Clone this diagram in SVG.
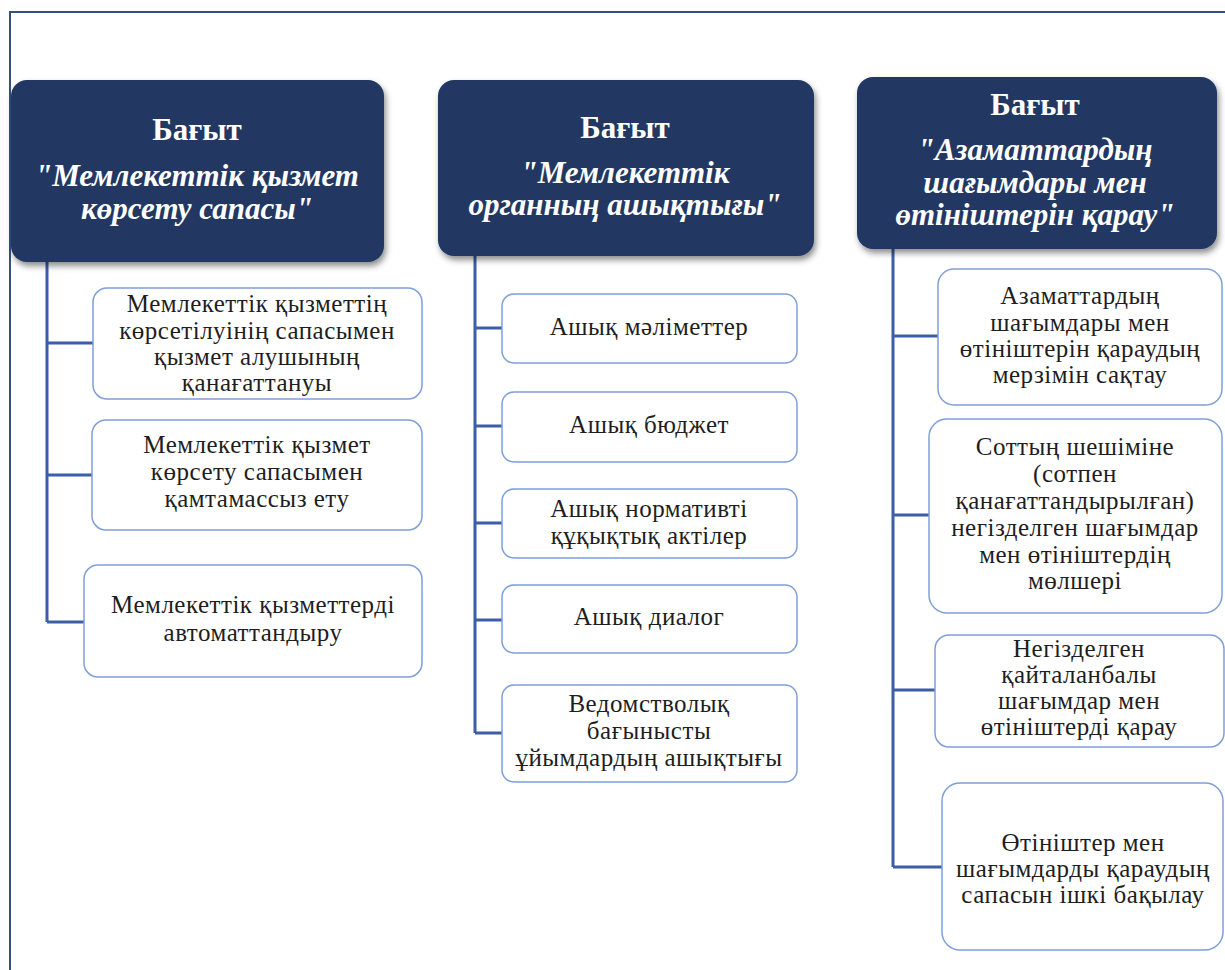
<svg xmlns="http://www.w3.org/2000/svg" width="1225" height="970" viewBox="0 0 1225 970">
<defs>
<style>
.hdr{fill:#203864;}
.ht{fill:#ffffff;font-family:"Liberation Serif","DejaVu Serif",serif;text-anchor:middle;}
.hb{font-weight:bold;font-size:31px;}
.hi{font-weight:bold;font-style:italic;font-size:31px;}
.box{fill:#ffffff;stroke:#7f9fd8;stroke-width:1.5;}
.bt{fill:#1e1e1e;font-family:"Liberation Serif","DejaVu Serif",serif;font-size:25px;letter-spacing:0.5px;text-anchor:middle;}
.con{fill:none;stroke:#3b5ea6;stroke-width:3;}
.frame{fill:none;stroke:#34507f;stroke-width:2;}
</style>
<filter id="sh" x="-10%" y="-10%" width="125%" height="130%">
<feDropShadow dx="2" dy="4" stdDeviation="3" flood-color="#000" flood-opacity="0.45"/>
</filter>
</defs>
<rect width="1225" height="970" fill="#ffffff"/>
<path class="frame" d="M10,970 V12 H1225"/>

<g id="connectors">
<path class="con" d="M47,262 V622 M47,343 H93 M47,475 H92 M47,622 H84"/>
<path class="con" d="M475,256 V733 M475,328 H502 M475,426 H502 M475,523 H502 M475,620 H502 M475,733 H502"/>
<path class="con" d="M893,249 V867 M893,336 H938 M893,515 H929 M893,690 H935 M893,867 H942"/>
</g>

<g id="h1">
<rect class="hdr" x="11" y="80" width="373" height="182" rx="16" filter="url(#sh)"/>
<text class="ht hb" x="197" y="140">Бағыт</text>
<text class="ht hi" x="197" y="186">"Мемлекеттік қызмет</text>
<text class="ht hi" x="197" y="219">көрсету сапасы"</text>
</g>
<g id="h2">
<rect class="hdr" x="438" y="80" width="376" height="176" rx="16" filter="url(#sh)"/>
<text class="ht hb" x="625" y="138">Бағыт</text>
<text class="ht hi" x="625" y="183">"Мемлекеттік</text>
<text class="ht hi" x="625" y="215">органның ашықтығы"</text>
</g>
<g id="h3">
<rect class="hdr" x="857" y="77" width="360" height="172" rx="16" filter="url(#sh)"/>
<text class="ht hb" x="1035" y="115">Бағыт</text>
<text class="ht hi" x="1035" y="160">"Азаматтардың</text>
<text class="ht hi" x="1035" y="193">шағымдары мен</text>
<text class="ht hi" x="1035" y="225">өтініштерін қарау"</text>
</g>

<g id="c1a">
<rect class="box" x="93" y="288" width="329" height="111" rx="14"/>
<text class="bt" x="257" y="312">Мемлекеттік қызметтің</text>
<text class="bt" x="257" y="339">көрсетілуінің сапасымен</text>
<text class="bt" x="257" y="365">қызмет алушының</text>
<text class="bt" x="257" y="391">қанағаттануы</text>
</g>
<g id="c1b">
<rect class="box" x="92" y="420" width="330" height="110" rx="14"/>
<text class="bt" x="257" y="453">Мемлекеттік қызмет</text>
<text class="bt" x="257" y="480">көрсету сапасымен</text>
<text class="bt" x="257" y="507">қамтамассыз ету</text>
</g>
<g id="c1c">
<rect class="box" x="84" y="565" width="338" height="112" rx="14"/>
<text class="bt" x="253" y="613">Мемлекеттік қызметтерді</text>
<text class="bt" x="253" y="641">автоматтандыру</text>
</g>

<g id="c2a">
<rect class="box" x="502" y="294" width="295" height="69" rx="12"/>
<text class="bt" x="649" y="335">Ашық мәліметтер</text>
</g>
<g id="c2b">
<rect class="box" x="502" y="392" width="295" height="70" rx="12"/>
<text class="bt" x="649" y="433">Ашық бюджет</text>
</g>
<g id="c2c">
<rect class="box" x="502" y="489" width="295" height="69" rx="12"/>
<text class="bt" x="649" y="517">Ашық нормативті</text>
<text class="bt" x="649" y="544">құқықтық актілер</text>
</g>
<g id="c2d">
<rect class="box" x="502" y="585" width="295" height="68" rx="12"/>
<text class="bt" x="649" y="625">Ашық диалог</text>
</g>
<g id="c2e">
<rect class="box" x="502" y="685" width="295" height="97" rx="12"/>
<text class="bt" x="649" y="712">Ведомстволық</text>
<text class="bt" x="649" y="739">бағынысты</text>
<text class="bt" x="649" y="766">ұйымдардың ашықтығы</text>
</g>

<g id="c3a">
<rect class="box" x="938" y="269" width="284" height="136" rx="16"/>
<text class="bt" x="1080" y="304">Азаматтардың</text>
<text class="bt" x="1080" y="331">шағымдары мен</text>
<text class="bt" x="1080" y="357">өтініштерін қараудың</text>
<text class="bt" x="1080" y="383">мерзімін сақтау</text>
</g>
<g id="c3b">
<rect class="box" x="929" y="419" width="293" height="194" rx="18"/>
<text class="bt" x="1075" y="455">Соттың шешіміне</text>
<text class="bt" x="1075" y="482">(сотпен</text>
<text class="bt" x="1075" y="509">қанағаттандырылған)</text>
<text class="bt" x="1075" y="536">негізделген шағымдар</text>
<text class="bt" x="1075" y="563">мен өтініштердің</text>
<text class="bt" x="1075" y="589">мөлшері</text>
</g>
<g id="c3c">
<rect class="box" x="935" y="635" width="289" height="112" rx="14"/>
<text class="bt" x="1079" y="657">Негізделген</text>
<text class="bt" x="1079" y="683">қайталанбалы</text>
<text class="bt" x="1079" y="709">шағымдар мен</text>
<text class="bt" x="1079" y="735">өтініштерді қарау</text>
</g>
<g id="c3d">
<rect class="box" x="942" y="783" width="281" height="167" rx="18"/>
<text class="bt" x="1083" y="851">Өтініштер мен</text>
<text class="bt" x="1083" y="877">шағымдарды қараудың</text>
<text class="bt" x="1083" y="903">сапасын ішкі бақылау</text>
</g>
</svg>
